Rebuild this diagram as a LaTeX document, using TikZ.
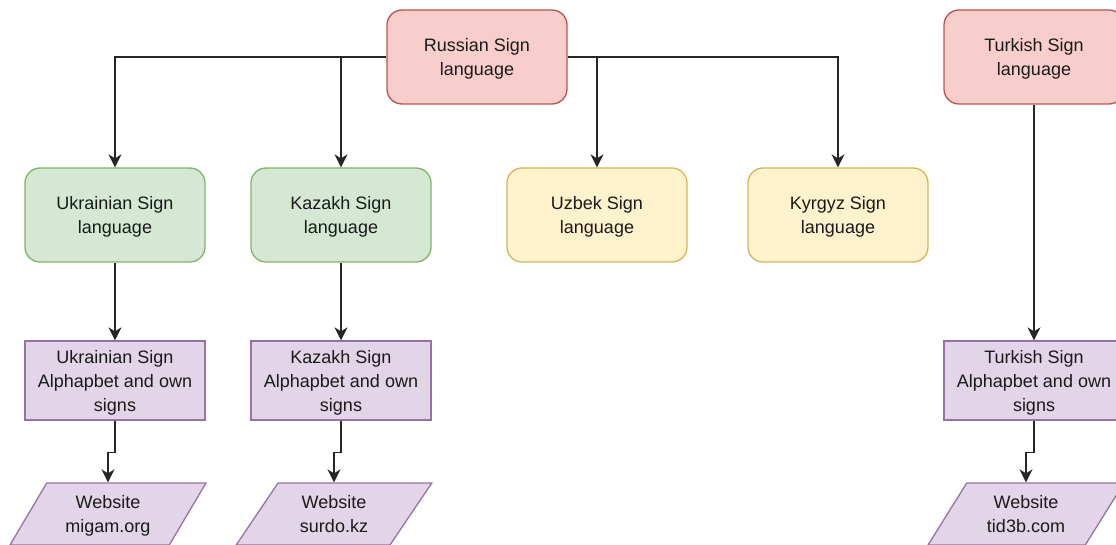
\documentclass[tikz,border=0pt]{standalone}
\usepackage{fontspec}
\setmainfont{Liberation Sans}
\usetikzlibrary{arrows.meta,shapes.geometric}
\definecolor{redfill}{HTML}{F8CECC}\definecolor{redline}{HTML}{B85450}
\definecolor{greenfill}{HTML}{D5E8D4}\definecolor{greenline}{HTML}{82B366}
\definecolor{yellowfill}{HTML}{FFF2CC}\definecolor{yellowline}{HTML}{D6B656}
\definecolor{purplefill}{HTML}{E1D5E7}\definecolor{purpleline}{HTML}{9673A6}
\definecolor{txt}{HTML}{1A1A1A}
\newcommand\topst{\rule{0pt}{21pt}}
\newcommand\botst{\rule[-7.2pt]{0pt}{7.2pt}}
\begin{document}
\begin{tikzpicture}[x=1pt,y=-1pt,
  every node/.style={font=\fontsize{18}{24}\selectfont, text=txt, align=center, line width=1.3pt, inner sep=0pt},
  langbox/.style={rounded corners=15pt, minimum width=180pt, minimum height=94pt},
  redbox/.style={langbox, draw=redline, fill=redfill},
  greenbox/.style={langbox, draw=greenline, fill=greenfill},
  yellowbox/.style={langbox, draw=yellowline, fill=yellowfill},
  alphabox/.style={draw=purpleline, fill=purplefill, minimum width=180pt, minimum height=79pt},
  webbox/.style={trapezium, trapezium left angle=64, trapezium right angle=116, trapezium stretches=true,
     draw=purpleline, fill=purplefill, minimum width=196pt, minimum height=62pt},
  arr/.style={draw=black!85, line width=1.4pt, -{Stealth[length=13pt,width=13pt,inset=4pt]}}
]
\useasboundingbox (0,0) rectangle (1116,545);
\node[redbox] (rus) at (477,57) {\topst Russian Sign\\language\botst};
\node[redbox] (tur) at (1034,57) {\topst Turkish Sign\\language\botst};
\node[greenbox] (ukr) at (115,215) {\topst Ukrainian Sign\\language\botst};
\node[greenbox] (kaz) at (341,215) {\topst Kazakh Sign\\language\botst};
\node[yellowbox] (uzb) at (597,215) {\topst Uzbek Sign\\language\botst};
\node[yellowbox] (kyr) at (838,215) {\topst Kyrgyz Sign\\language\botst};
\node[alphabox] (ukrA) at (115,380.5) {\topst Ukrainian Sign\\Alphapbet and own\\signs\botst};
\node[alphabox] (kazA) at (341,380.5) {\topst Kazakh Sign\\Alphapbet and own\\signs\botst};
\node[alphabox] (turA) at (1034,380.5) {\topst Turkish Sign\\Alphapbet and own\\signs\botst};
\node[webbox] (ukrW) at (108,514) {\topst Website\\migam.org\botst};
\node[webbox] (kazW) at (334,514) {\topst Website\\surdo.kz\botst};
\node[webbox] (turW) at (1026,514) {\topst Website\\tid3b.com\botst};
\draw[arr] (rus.west) -| (ukr.north);
\draw[arr] (rus.west) -| (kaz.north);
\draw[arr] (rus.east) -| (uzb.north);
\draw[arr] (rus.east) -| (kyr.north);
\draw[arr] (tur) -- (turA);
\draw[arr] (ukr) -- (ukrA);
\draw[arr] (kaz) -- (kazA);
\draw[arr] (ukrA.south) -- ++(0,32) -| (ukrW.north);
\draw[arr] (kazA.south) -- ++(0,32) -| (kazW.north);
\draw[arr] (turA.south) -- ++(0,32) -| (turW.north);
\end{tikzpicture}
\end{document}
